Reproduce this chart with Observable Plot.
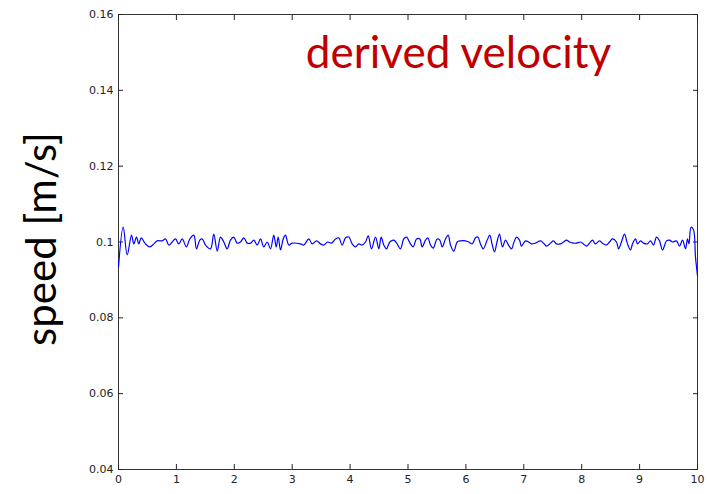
<!DOCTYPE html>
<html>
<head>
<meta charset="utf-8">
<script src="https://cdn.jsdelivr.net/npm/d3@7"></script>
<script src="https://cdn.jsdelivr.net/npm/@observablehq/plot@0.6"></script>
<style>
  html, body { margin: 0; padding: 0; background: #fff; }
  #chart svg { display: block; }
</style>
</head>
<body>
<div id="chart"></div>
<script>
const timeS = [0,0.081,0.150,0.225,0.264,0.311,0.351,0.392,0.466,0.541,0.610,0.668,0.755,0.812,0.869,0.927,0.984,1.041,1.100,1.174,1.231,1.301,1.347,1.404,1.446,1.503,1.589,1.646,1.705,1.762,1.819,1.877,1.934,1.991,2.050,2.107,2.164,2.223,2.280,2.337,2.396,2.453,2.509,2.568,2.625,2.682,2.724,2.758,2.798,2.845,2.884,2.941,3.000,3.143,3.200,3.287,3.345,3.420,3.489,3.546,3.610,3.679,3.748,3.805,3.864,3.921,3.978,4.036,4.093,4.150,4.209,4.266,4.313,4.370,4.439,4.496,4.537,4.582,4.629,4.686,4.755,4.813,4.870,4.927,4.974,5.043,5.090,5.147,5.204,5.245,5.302,5.342,5.389,5.435,5.504,5.549,5.591,5.648,5.694,5.734,5.791,5.850,5.907,5.993,6.050,6.109,6.166,6.206,6.252,6.299,6.368,6.413,6.451,6.494,6.537,6.580,6.632,6.684,6.736,6.788,6.831,6.874,6.926,6.960,7.029,7.081,7.133,7.202,7.288,7.340,7.392,7.461,7.513,7.565,7.634,7.686,7.737,7.789,7.858,7.910,7.979,8.031,8.083,8.135,8.187,8.238,8.307,8.359,8.428,8.480,8.532,8.601,8.636,8.687,8.739,8.791,8.843,8.877,8.929,8.964,9.016,9.067,9.136,9.188,9.240,9.292,9.344,9.396,9.465,9.516,9.568,9.637,9.689,9.741,9.793,9.827,9.853,9.888,9.931,9.965,10.0];
const speed = [0.0934,0.1039,0.0966,0.1018,0.0995,0.1013,0.0995,0.1011,0.0995,0.0987,0.0995,0.1003,0.1003,0.1008,0.0992,0.1000,0.1008,0.0995,0.1008,0.0987,0.1008,0.1018,0.0982,0.1005,0.1008,0.0992,0.0982,0.1021,0.0976,0.1013,0.1000,0.0982,0.1005,0.1013,0.0997,0.1000,0.1011,0.0997,0.0997,0.1005,0.0992,0.1008,0.0987,0.1000,0.0982,0.1018,0.0987,0.1013,0.0979,0.1008,0.1018,0.0992,0.0997,0.0995,0.0992,0.1008,0.0995,0.1003,0.0995,0.0992,0.1000,0.0997,0.1008,0.1011,0.0992,0.1011,0.1013,0.0995,0.0987,0.0995,0.0992,0.1000,0.1016,0.0982,0.1013,0.0982,0.1013,0.0992,0.0982,0.1000,0.1005,0.0995,0.0982,0.1008,0.1013,0.0995,0.0987,0.1008,0.1008,0.0987,0.1005,0.1011,0.0992,0.0984,0.1008,0.1005,0.0987,0.1008,0.1018,0.0992,0.0976,0.1000,0.1003,0.1003,0.1000,0.0995,0.1011,0.1013,0.0995,0.0982,0.1005,0.1018,0.0995,0.0974,0.1000,0.1021,0.0987,0.1005,0.0992,0.0982,0.1000,0.1013,0.1005,0.0989,0.1003,0.1000,0.0995,0.0997,0.1003,0.0997,0.0989,0.0997,0.1003,0.0995,0.0995,0.1000,0.1005,0.1000,0.0997,0.0997,0.1000,0.0995,0.0989,0.0997,0.1005,0.0995,0.1003,0.0997,0.0992,0.1000,0.1008,0.1000,0.0982,0.1000,0.1021,0.0995,0.0979,0.0995,0.1008,0.0995,0.1003,0.0997,0.0995,0.1003,0.0992,0.1013,0.1003,0.0979,0.1003,0.1005,0.1000,0.1003,0.0989,0.1005,0.0982,0.1008,0.0995,0.1039,0.1032,0.0961,0.0911];
const xTicks = [0,1,2,3,4,5,6,7,8,9,10];
const yTicks = [0.04,0.06,0.08,0.10,0.12,0.14,0.16];
const yTickLabels = ["0.04","0.06","0.08","0.1","0.12","0.14","0.16"];
const titleText = "derived velocity";
const yLabelText = "speed [m/s]";

const rows = timeS.map((t, i) => ({t, v: speed[i]}));
const tickFont = "'DejaVu Sans', sans-serif";

const chart = Plot.plot({
  width: 708,
  height: 494,
  marginLeft: 118,
  marginRight: 11,
  marginTop: 14,
  marginBottom: 25,
  style: {background: "#fff", color: "#222", fontFamily: tickFont, fontSize: "11px"},
  x: {domain: [0, 10]},
  y: {domain: [0.04, 0.16]},
  marks: [
    Plot.frame({stroke: "#333", strokeWidth: 1}),
    Plot.axisX(xTicks, {anchor: "bottom", tickSize: 0, tickPadding: 6, label: null, fontSize: 11}),
    Plot.axisX(xTicks, {anchor: "bottom", tickSize: -5, tickFormat: () => "", label: null}),
    Plot.axisX(xTicks, {anchor: "top", tickSize: -5, tickFormat: () => "", label: null}),
    Plot.axisY(yTicks, {anchor: "left", tickSize: 0, tickPadding: 5, tickFormat: (d, i) => yTickLabels[i], label: null, fontSize: 11}),
    Plot.axisY(yTicks, {anchor: "left", tickSize: -5, tickFormat: () => "", label: null}),
    Plot.axisY(yTicks, {anchor: "right", tickSize: -5, tickFormat: () => "", label: null}),
    Plot.line(rows, {x: "t", y: "v", stroke: "#0000ff", strokeWidth: 1.2, curve: "catmull-rom"}),
    Plot.text([titleText], {frameAnchor: "top-left", dx: 340, dy: 22, fill: "#c00000", fontSize: 44, fontFamily: "Lato, 'Open Sans', sans-serif", textAnchor: "middle"}),
    Plot.text([yLabelText], {frameAnchor: "left", dx: -76, dy: -3, rotate: -90, fill: "#000", fontSize: 42, fontFamily: "Lato, 'Open Sans', sans-serif", textAnchor: "middle"})
  ]
});
document.getElementById("chart").appendChild(chart);
</script>
</body>
</html>
